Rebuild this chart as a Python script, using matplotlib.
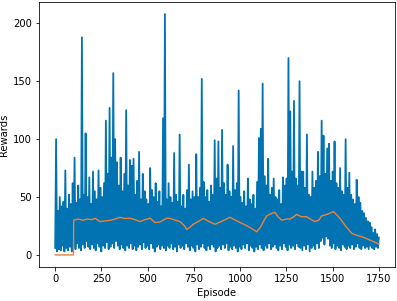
import numpy as np
import matplotlib.pyplot as plt

# peak and trough reward read per 10-episode bin (episodes 0..1750)
peaks = [100, 38, 50, 42, 46, 73, 40, 52, 44, 62,
         84, 45, 60, 48, 188, 52, 105, 50, 67, 44,
         72, 55, 48, 73, 58, 50, 62, 116, 70, 127,
         84, 157, 100, 80, 60, 84, 55, 70, 125, 60,
         82, 77, 83, 52, 64, 89, 48, 70, 55, 48,
         44, 75, 56, 50, 62, 46, 55, 42, 118, 208,
         48, 62, 50, 45, 88, 52, 46, 104, 42, 52,
         40, 56, 78, 48, 55, 50, 87, 50, 58, 152,
         63, 50, 56, 46, 60, 52, 99, 66, 98, 58,
         108, 62, 52, 78, 55, 50, 94, 56, 62, 142,
         50, 45, 55, 42, 66, 48, 44, 52, 40, 63,
         101, 109, 148, 68, 60, 83, 52, 58, 66, 50,
         48, 56, 44, 67, 60, 66, 170, 124, 72, 133,
         66, 60, 150, 72, 72, 58, 104, 52, 50, 72,
         58, 64, 89, 68, 116, 103, 70, 92, 96, 64,
         72, 98, 62, 58, 75, 55, 52, 100, 58, 71,
         52, 48, 44, 65, 50, 45, 38, 36, 32, 29,
         28, 24, 19, 22, 18, 15]
troughs = [6, 3, 5, 4, 8, 3, 6, 4, 7, 3,
           8, 5, 10, 6, 4, 9, 6, 12, 7, 5,
           9, 6, 4, 10, 7, 3, 8, 6, 11, 5,
           7, 10, 6, 12, 8, 5, 9, 6, 4, 8,
           6, 10, 5, 8, 4, 7, 9, 5, 11, 6,
           8, 5, 10, 6, 3, 7, 9, 5, 8, 6,
           4, 8, 6, 10, 5, 7, 3, 9, 6, 8,
           5, 10, 7, 4, 8, 6, 3, 9, 5, 7,
           10, 6, 4, 8, 5, 9, 7, 3, 6, 8,
           5, 9, 6, 10, 4, 7, 5, 8, 6, 3,
           7, 5, 9, 6, 10, 4, 8, 6, 3, 7,
           5, 9, 6, 4, 8, 6, 10, 5, 7, 9,
           6, 4, 8, 5, 10, 7, 4, 9, 6, 8,
           5, 10, 7, 6, 4, 8, 5, 9, 3, 6,
           8, 5, 10, 6, 12, 15, 9, 16, 14, 8,
           6, 10, 5, 8, 6, 4, 9, 7, 5, 8,
           6, 9, 5, 7, 10, 6, 5, 8, 6, 7,
           5, 8, 6, 5, 7, 6]

# running mean (orange)
avg_ep = [0, 99, 100, 125, 150, 175, 200, 216, 243, 275, 300, 325, 351, 375,
          405, 430, 459, 485, 513, 540, 567, 603, 621, 650, 675, 700, 711,
          730, 747, 775, 801, 830, 864, 900, 945, 975, 1000, 1036, 1060, 1090,
          1110, 1130, 1144, 1165, 1188, 1205, 1225, 1252, 1270, 1290, 1306,
          1330, 1360, 1380, 1405, 1425, 1441, 1470, 1504, 1520, 1540, 1570,
          1603, 1630, 1666, 1700, 1750]
avg_val = [0, 0, 30, 31, 30, 31, 30.5, 31.7, 28.8, 29.5, 30, 31, 32.5, 31.5,
           31.7, 30.5, 28.8, 30.5, 31.7, 28, 28.5, 31.7, 31.6, 30, 28.8, 25, 22,
           24, 26.5, 29, 31.6, 29, 26.5, 29, 32.5, 30, 28, 25.3, 23, 20,
           24, 30, 33.7, 35.5, 36.8, 33, 30, 31, 31, 33, 35,
           33, 33, 31, 28.8, 30, 33.7, 35, 37.4, 35, 31.6, 25,
           18.7, 17, 15.3, 13, 9.5]

rewards = []
for lo, hi in zip(troughs, peaks):
    rewards += [lo, hi]
episodes = np.arange(len(rewards)) * 1750 / (len(rewards) - 1)

fig = plt.figure(figsize=(397 / 72, 301 / 72), dpi=72)
ax = fig.add_axes([39 / 397, 1 - 267 / 301, 356 / 397, 265 / 301])
ax.plot(episodes, rewards, color='#0173b2', lw=1.8)
ax.plot(avg_ep, avg_val, color='#ee8137', lw=1.4)
ax.set_xticks([0, 250, 500, 750, 1000, 1250, 1500, 1750])
ax.set_xlabel('Episode')
ax.set_ylabel('Rewards')
fig.savefig('out.png', dpi=72)
